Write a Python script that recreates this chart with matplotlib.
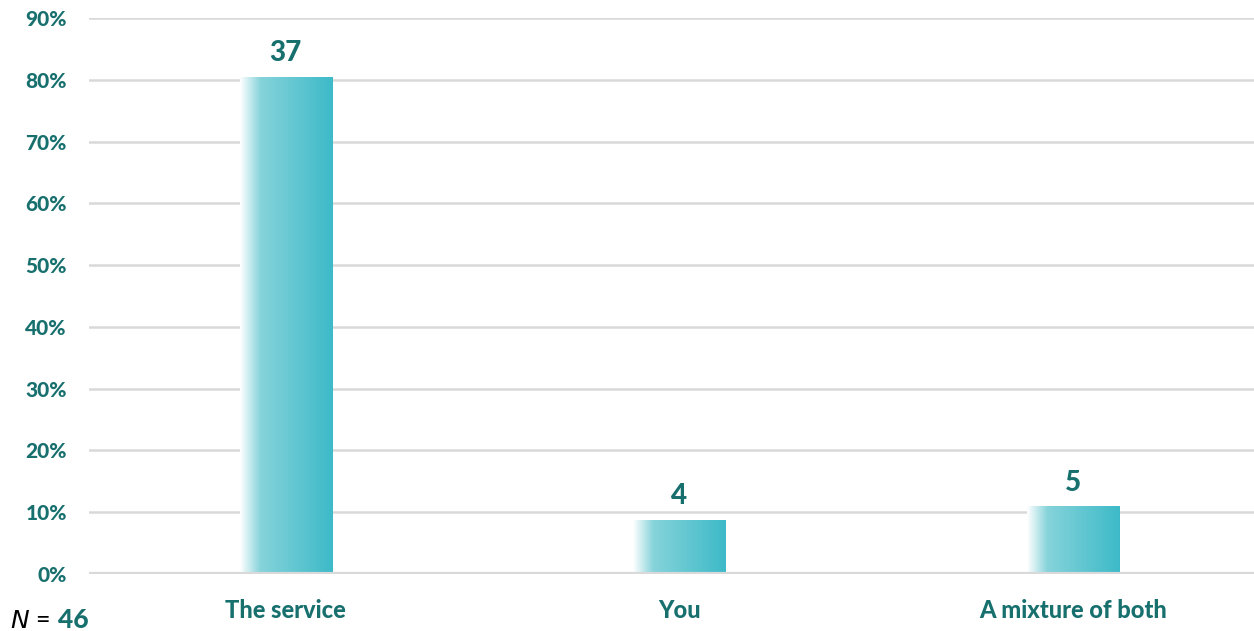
import numpy as np
import matplotlib.pyplot as plt
from matplotlib.colors import LinearSegmentedColormap

categories = ["The service", "You", "A mixture of both"]
counts = [37, 4, 5]
n_total = 46
percents = [c / n_total * 100 for c in counts]
yticks = list(range(0, 91, 10))

teal_text = "#17706e"
grid_col = "#d9d9d9"
cmap = LinearSegmentedColormap.from_list(
    "bar", [(0, "#ffffff"), (0.22, "#86d3da"), (1, "#3dbac8")])

plt.rcParams["font.family"] = ["Lato", "DejaVu Sans"]
W = 900

fig = plt.figure(figsize=(12.54, 6.31), dpi=100)
ax = fig.add_axes([89 / 1254, 57 / 631, 1181 / 1254, 556 / 631])

x = np.arange(len(categories))
width = 0.234
grad = np.linspace(0, 1, 256).reshape(1, -1)
for xi, p, c in zip(x, percents, counts):
    ax.imshow(grad, cmap=cmap, aspect="auto", zorder=3,
              extent=(xi - width / 2, xi + width / 2, 0, p))
    ax.text(xi, p + 1.8, str(c), ha="center", va="bottom",
            fontsize=20, fontweight=W, color=teal_text)

ax.set_xlim(-0.5, len(categories) - 0.5)
ax.set_ylim(0, 90)
ax.set_yticks(yticks)
ax.set_yticklabels([f"{t}%" for t in yticks], fontsize=15,
                   fontweight=W, color=teal_text)
ax.set_xticks(x)
ax.set_xticklabels(categories, fontsize=17, fontweight=W, color=teal_text)
ax.tick_params(length=0)
ax.tick_params(axis="y", pad=16)
ax.tick_params(axis="x", pad=18)

for t in yticks[1:]:
    ax.axhline(t, color=grid_col, lw=1.8, zorder=1)
ax.axhline(0, color=grid_col, lw=3, zorder=4)
for s in ax.spines.values():
    s.set_visible(False)

fig.text(10 / 1254, 1 - 620 / 631, r"$\it{N}$ = ", fontsize=18,
         color="black", va="center", ha="left")
fig.text(58 / 1254, 1 - 620 / 631, "46", fontsize=19, fontweight=W,
         color=teal_text, va="center", ha="left")

fig.savefig("out.png", dpi=100)
